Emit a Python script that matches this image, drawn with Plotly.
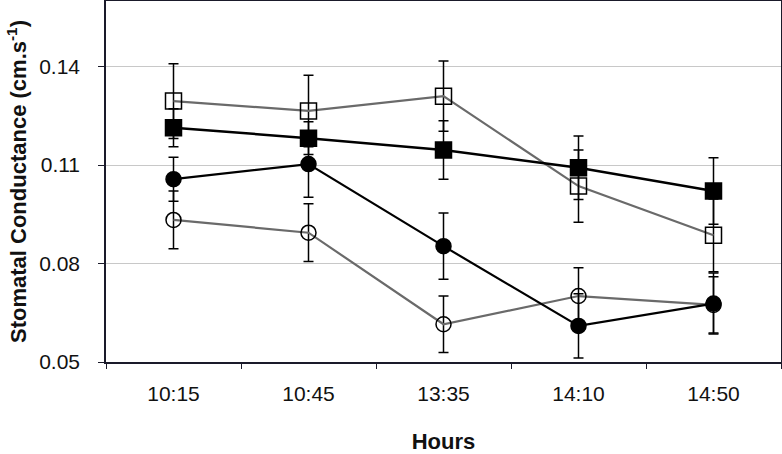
import plotly.graph_objects as go

hours = ["10:15", "10:45", "13:35", "14:10", "14:50"]

open_sq = [0.1295, 0.1265, 0.1310, 0.1036, 0.0886]
open_sq_err = [0.0114, 0.0109, 0.0107, 0.0110, 0.0111]

filled_sq = [0.1214, 0.1182, 0.1146, 0.1092, 0.1021]
filled_sq_err = [0.0058, 0.0050, 0.0089, 0.0097, 0.0101]

filled_ci = [0.1057, 0.1103, 0.0853, 0.0610, 0.0678]
filled_ci_err = [0.0067, 0.0101, 0.0101, 0.0098, 0.0093]

open_ci = [0.0933, 0.0894, 0.0615, 0.0701, 0.0674]
open_ci_err = [0.0088, 0.0088, 0.0086, 0.0086, 0.0086]

y_ticks = [0.05, 0.08, 0.11, 0.14]

FONT = "Liberation Sans, Arial, sans-serif"

fig = go.Figure()

def add(y, err, symbol, size, line_color, line_width):
    fig.add_trace(go.Scatter(
        x=hours, y=y, mode="lines+markers",
        line=dict(color=line_color, width=line_width),
        marker=dict(symbol=symbol, size=size, color="black",
                    line=dict(color="black", width=1.5)),
        error_y=dict(type="data", array=err, visible=True,
                     color="black", thickness=1.5, width=5),
        showlegend=False,
    ))

add(open_ci, open_ci_err, "circle-open", 15, "#6a6a6a", 2.2)
add(filled_ci, filled_ci_err, "circle", 15, "black", 2.2)
add(open_sq, open_sq_err, "square-open", 16, "#6a6a6a", 2.2)
add(filled_sq, filled_sq_err, "square", 16, "black", 2.5)

fig.update_layout(
    width=782, height=454,
    margin=dict(l=106, r=1, t=1, b=92, autoexpand=False),
    paper_bgcolor="white", plot_bgcolor="white",
    font=dict(family=FONT, size=21, color="#111"),
    xaxis=dict(
        type="category", range=[-0.5, 4.5],
        showline=True, linecolor="#1a1a2a", linewidth=1.5, mirror=True,
        ticks="outside", tickson="boundaries", ticklen=5, tickcolor="#1a1a2a",
        showgrid=False, automargin=False,
        ticklabelstandoff=12,
        title=dict(text="<b>Hours</b>", font=dict(size=22), standoff=32),
        tickfont=dict(size=21),
    ),
    yaxis=dict(
        range=[0.05, 0.16], automargin=False,
        tickvals=y_ticks, ticktext=[f"{v:.2f}" for v in y_ticks],
        showline=True, linecolor="#1a1a2a", linewidth=1.5, mirror=True,
        ticks="outside", ticklen=6, tickcolor="#1a1a2a",
        showgrid=True, gridcolor="#c8c8c8", gridwidth=1,
        zeroline=False,
        ticklabelstandoff=14,
        title=dict(text="<b>Stomatal Conductance (cm.s<sup>-1</sup>)</b>",
                   font=dict(size=22), standoff=6),
        tickfont=dict(size=21),
    ),
)

fig.write_html("out.html", config={"displayModeBar": False},
               post_script="document.body.style.margin='0';document.body.style.padding='0';")
